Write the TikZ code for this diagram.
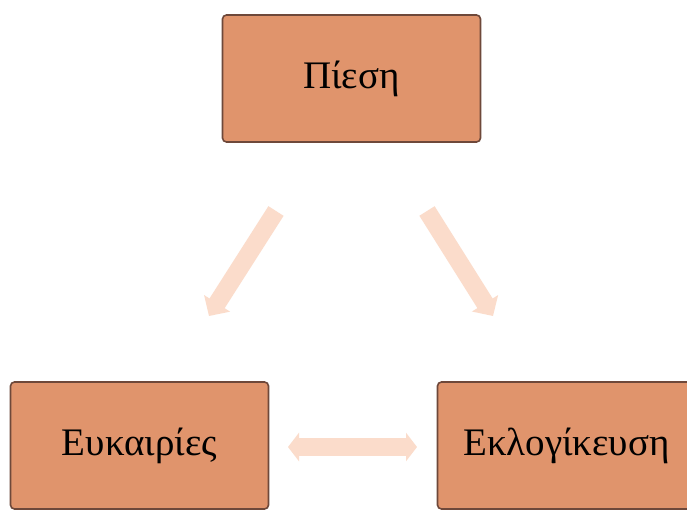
\documentclass[tikz,border=0pt]{standalone}
\usepackage{fontspec}
\setmainfont{Liberation Serif}
\usetikzlibrary{arrows.meta}
\definecolor{boxfill}{RGB}{224,148,108}
\definecolor{boxline}{RGB}{110,72,58}
\definecolor{arrowfill}{RGB}{251,220,203}
\tikzset{
  stagebox/.style={draw=boxline, line width=1.6pt, fill=boxfill, rounded corners=4pt,
    minimum width=258pt, minimum height=127pt, inner sep=0pt,
    font=\fontsize{39}{46}\selectfont, text=black},
  fatarrow/.style={draw=arrowfill, line width=18pt,
    -{Triangle[width=30pt,length=15pt]}},
  fatdouble/.style={draw=arrowfill, line width=18pt,
    {Triangle[width=28pt,length=11pt]}-{Triangle[width=28pt,length=11pt]}}
}
\begin{document}
\begin{tikzpicture}[x=1pt,y=1pt]
\useasboundingbox (0,0) rectangle (687,509);
\clip (0,0) rectangle (687,509);
\fill[white] (0,0) rectangle (687,509);
\node[stagebox] (p) at (351.5,430.5) {Πίεση};
\node[stagebox] (e) at (139.5,63.5) {Ευκαιρίες};
\node[stagebox] (k) at (566.5,63.5) {Εκλογίκευση};
\coordinate (a1s) at (276,298);
\coordinate (a1e) at (209,193);
\coordinate (a2s) at (427,298);
\coordinate (a2e) at (493,193);
\coordinate (a3s) at (288,62);
\coordinate (a3e) at (417,62);
\draw[fatarrow] (a1s) -- (a1e);
\draw[fatarrow] (a2s) -- (a2e);
\draw[fatdouble] (a3s) -- (a3e);
\end{tikzpicture}
\end{document}
